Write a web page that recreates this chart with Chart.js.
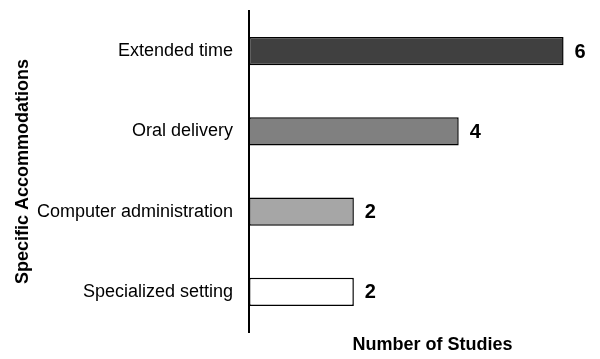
<!DOCTYPE html>
<html>
<head>
<meta charset="utf-8">
<script src="https://cdn.jsdelivr.net/npm/chart.js@4/dist/chart.umd.min.js"></script>
<style>
  html, body { margin: 0; padding: 0; background: #fff; overflow: hidden; }
  #wrap { width: 600px; height: 359px; position: relative; overflow: hidden; }
  #c { display: block; }
</style>
</head>
<body>
<div id="wrap"><canvas id="c" width="616" height="359"></canvas></div>
<script>
const categories = ["Extended time", "Oral delivery", "Computer administration", "Specialized setting"];
const studyCounts = [6, 4, 2, 2];
const barColors = ["#404040", "#808080", "#a6a6a6", "#ffffff"];
const xAxisTitle = "Number of Studies";
const yAxisTitle = "Specific Accommodations";

Chart.defaults.font.family = "'Liberation Sans', Arial, Helvetica, sans-serif";
Chart.defaults.color = "#000";

const valueLabels = {
  id: "valueLabels",
  afterDatasetsDraw(chart) {
    const ctx = chart.ctx;
    const meta = chart.getDatasetMeta(0);
    ctx.save();
    ctx.font = "bold 20px 'Liberation Sans', Arial, sans-serif";
    ctx.fillStyle = "#000";
    ctx.textAlign = "left";
    ctx.textBaseline = "middle";
    meta.data.forEach((bar, i) => {
      ctx.fillText(String(studyCounts[i]), bar.x + 11, bar.y + 1);
    });
    ctx.restore();
  }
};

new Chart(document.getElementById("c"), {
  type: "bar",
  data: {
    labels: categories,
    datasets: [{
      data: studyCounts,
      backgroundColor: barColors,
      borderColor: "#000",
      borderWidth: 1.5,
      borderSkipped: false,
      categoryPercentage: 1,
      barPercentage: 0.35
    }]
  },
  options: {
    indexAxis: "y",
    responsive: false,
    animation: false,
    events: [],
    layout: { padding: { top: 11, right: 0, bottom: 0, left: 0 } },
    plugins: { legend: { display: false }, tooltip: { enabled: false } },
    scales: {
      x: {
        min: 0,
        max: 7,
        grid: { display: false, drawTicks: false },
        border: { display: false },
        ticks: { display: false },
        title: {
          display: true,
          text: xAxisTitle,
          font: { size: 18, weight: "bold" },
          padding: { top: 0, bottom: 3 }
        },
        afterFit(scale) { scale.height = 27; scale.paddingLeft = 0; scale.paddingRight = 0; }
      },
      y: {
        grid: { display: false, drawTicks: false, tickLength: 0 },
        border: { display: true, color: "#000", width: 2 },
        ticks: { font: { size: 18 }, padding: 16, color: "#000" },
        title: {
          display: true,
          text: yAxisTitle,
          font: { size: 18, weight: "bold" },
          padding: { top: 12, bottom: 0 }
        },
        afterFit(scale) { scale.width = 249; scale.paddingTop = 0; scale.paddingBottom = 0; }
      }
    }
  },
  plugins: [valueLabels]
});
</script>
</body>
</html>
